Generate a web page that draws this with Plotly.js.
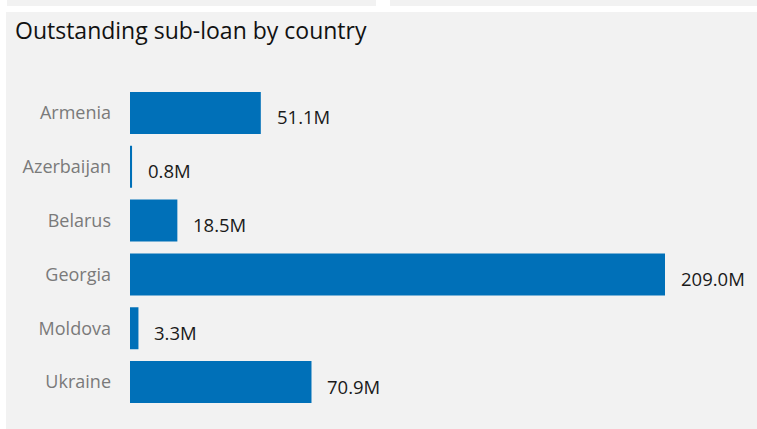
<!DOCTYPE html>
<html>
<head>
<meta charset="utf-8">
<script src="https://cdn.plot.ly/plotly-3.0.1.min.js"></script>
<style>
  html, body { margin: 0; padding: 0; background: #ffffff; width: 757px; height: 429px; overflow: hidden; }
  .strip { position: absolute; top: 0; height: 6px; background: #f2f2f2; }
  #panel { position: absolute; left: 6px; top: 12px; width: 751px; height: 417px; background: #f2f2f2; }
  #chart { position: absolute; left: 0; top: 0; width: 757px; height: 429px; }
</style>
</head>
<body>
<div class="strip" style="left:7px; width:369px;"></div>
<div class="strip" style="left:390px; width:367px;"></div>
<div id="panel"></div>
<div id="chart"></div>
<script>
const countries = ["Armenia", "Azerbaijan", "Belarus", "Georgia", "Moldova", "Ukraine"];
const outstanding = [51.1, 0.8, 18.5, 209.0, 3.3, 70.9];
const valueLabels = outstanding.map(v => v.toFixed(1) + "M");

const FONT = '"Segoe UI", "Open Sans", "Noto Sans", sans-serif';

const trace = {
  type: "bar",
  orientation: "h",
  y: countries,
  x: outstanding,
  marker: { color: "#0070b8" },
  hoverinfo: "none"
};

const annotations = countries.map((c, i) => ({
  x: outstanding[i],
  y: c,
  xref: "x",
  yref: "y",
  text: valueLabels[i],
  showarrow: false,
  xanchor: "left",
  yanchor: "middle",
  xshift: 14,
  yshift: -4,
  font: { family: FONT, size: 18.5, color: "#1a1a1a" }
}));

const layout = {
  width: 757,
  height: 429,
  paper_bgcolor: "rgba(0,0,0,0)",
  plot_bgcolor: "rgba(0,0,0,0)",
  margin: { l: 130, r: 17, t: 85.5, b: 20, pad: 0 },
  bargap: 0.22,
  showlegend: false,
  title: {
    text: "Outstanding sub-loan by country",
    xref: "container",
    yref: "container",
    x: 15 / 757,
    xanchor: "left",
    y: 1 - 31 / 429,
    yanchor: "middle",
    font: { family: FONT, size: 23, color: "#111111" }
  },
  xaxis: {
    range: [0, 238.3],
    showgrid: false,
    zeroline: false,
    showline: false,
    showticklabels: false,
    ticks: "",
    fixedrange: true
  },
  yaxis: {
    type: "category",
    autorange: "reversed",
    showgrid: false,
    zeroline: false,
    showline: false,
    ticks: "",
    ticklabelstandoff: 18,
    tickfont: { family: FONT, size: 18, color: "#7a7a7a" },
    fixedrange: true
  },
  annotations: annotations
};

Plotly.newPlot("chart", [trace], layout, { displayModeBar: false, staticPlot: true });
</script>
</body>
</html>
